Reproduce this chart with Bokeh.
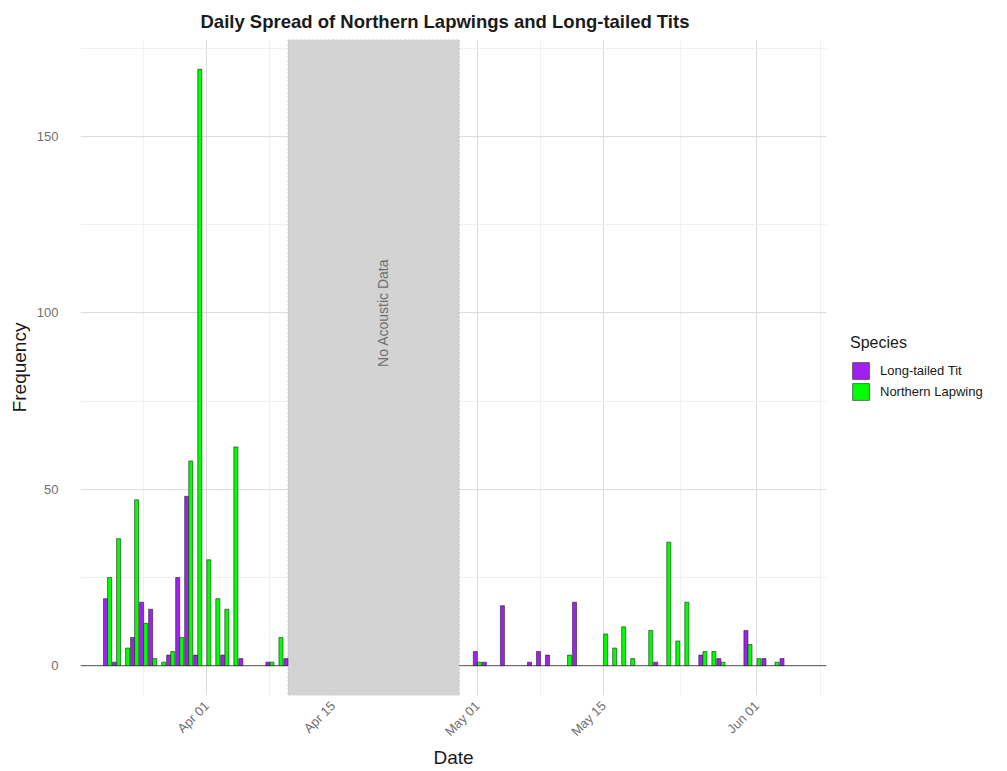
import math
import pandas as pd
from bokeh.plotting import figure
from bokeh.layouts import row
from bokeh.models import (ColumnDataSource, Range1d, FixedTicker, DatetimeTickFormatter,
                          BoxAnnotation, Span, Legend, LegendItem, Label)
from bokeh.transform import dodge
from bokeh.embed import file_html
from bokeh.resources import INLINE

# ---------------- data ----------------
species = ["Long-tailed Tit", "Northern Lapwing"]
colors = ["#A020F0", "#00FF00"]

tit_dates = ["2024-03-21", "2024-03-22", "2024-03-24", "2024-03-25", "2024-03-26",
             "2024-03-28", "2024-03-29", "2024-03-30", "2024-03-31", "2024-04-03",
             "2024-04-05", "2024-04-08", "2024-04-10", "2024-05-01", "2024-05-02",
             "2024-05-04", "2024-05-07", "2024-05-08", "2024-05-09", "2024-05-12",
             "2024-05-21", "2024-05-26", "2024-05-28", "2024-05-31", "2024-06-02",
             "2024-06-04"]
tit_counts = [19, 1, 8, 18, 16, 3, 25, 48, 3, 3, 2, 1, 2, 4, 1, 17, 1, 4, 3, 18,
              1, 3, 2, 10, 2, 2]

lap_dates = ["2024-03-21", "2024-03-22", "2024-03-23", "2024-03-24", "2024-03-25",
             "2024-03-26", "2024-03-27", "2024-03-28", "2024-03-29", "2024-03-30",
             "2024-03-31", "2024-04-01", "2024-04-02", "2024-04-03", "2024-04-04",
             "2024-04-08", "2024-04-09", "2024-05-01", "2024-05-11", "2024-05-15",
             "2024-05-16", "2024-05-17", "2024-05-18", "2024-05-20", "2024-05-22",
             "2024-05-23", "2024-05-24", "2024-05-26", "2024-05-27", "2024-05-28",
             "2024-05-31", "2024-06-01", "2024-06-03"]
lap_counts = [25, 36, 5, 47, 12, 2, 1, 4, 8, 58, 169, 30, 19, 16, 62, 1, 8, 1, 3, 9,
              5, 11, 2, 10, 35, 7, 18, 4, 4, 1, 6, 2, 1]

gap_start = "2024-04-10"
gap_end = "2024-04-29"
gap_label = "No Acoustic Data"
gap_label_date = "2024-04-20 12:00"
gap_label_y = 100

x_limits = ["2024-03-18", "2024-06-08 17:00"]
y_limits = [-8.45, 177.45]
x_major = ["2024-04-01", "2024-04-15", "2024-05-01", "2024-05-15", "2024-06-01"]
x_minor = ["2024-03-18", "2024-03-25", "2024-04-08", "2024-04-23", "2024-05-08",
           "2024-05-23 12:00", "2024-06-08"]
y_major = [0, 50, 100, 150]
y_minor = [25, 75, 125, 175]


def ms(s):
    return pd.Timestamp(s).value / 1e6


DAY = 86400000.0
FONT = "Liberation Sans"
H = 771

p = figure(width=831, height=H, x_axis_type="datetime",
           output_backend="svg", toolbar_location=None,
           x_range=Range1d(ms(x_limits[0]), ms(x_limits[1])),
           y_range=Range1d(y_limits[0], y_limits[1]),
           min_border_left=80, min_border_right=5, min_border_top=38,
           min_border_bottom=76)
p.outline_line_color = None
p.background_fill_color = "white"

# title
p.title.text = "Daily Spread of Northern Lapwings and Long-tailed Tits"
p.title.align = "left"
p.title.offset = 120
p.title.text_font = FONT
p.title.text_font_size = "18.5px"
p.title.text_font_style = "bold"
p.title.text_color = "#1a1a1a"
p.title.standoff = 16

# grids
p.xaxis.ticker = FixedTicker(ticks=[ms(d) for d in x_major], minor_ticks=[ms(d) for d in x_minor])
p.yaxis.ticker = FixedTicker(ticks=y_major, minor_ticks=y_minor)
p.xgrid.grid_line_color = "#dcdcdc"
p.ygrid.grid_line_color = "#dcdcdc"
p.xgrid.minor_grid_line_color = "#f0f0f0"
p.ygrid.minor_grid_line_color = "#f0f0f0"

# axes
p.xaxis.formatter = DatetimeTickFormatter(days="%b %d", months="%b %d")
p.xaxis.major_label_orientation = math.pi / 4
for ax in (p.xaxis, p.yaxis):
    ax.axis_line_color = None
    ax.major_tick_line_color = None
    ax.minor_tick_line_color = None
    ax.major_label_text_font = FONT
    ax.major_label_text_font_size = "13px"
    ax.major_label_text_color = "#707070"
    ax.axis_label_text_font = FONT
    ax.axis_label_text_font_size = "19px"
    ax.axis_label_text_font_style = "normal"
    ax.axis_label_text_color = "#1a1a1a"
p.xaxis.major_label_standoff = 2
p.yaxis.major_label_standoff = 16
p.xaxis.axis_label_standoff = 0
p.yaxis.axis_label_standoff = 4
p.xaxis.axis_label = "Date"
p.yaxis.axis_label = "Frequency"

# baseline
p.add_layout(Span(location=0, dimension="width", line_color="#555555", line_width=1,
                  level="underlay"))

# grey gap box
box = BoxAnnotation(left=ms(gap_start), right=ms(gap_end), fill_color="#D3D3D3",
                    fill_alpha=1.0, line_color="#7a7a7a", line_dash="2 2", line_width=1,
                    level="underlay")
p.add_layout(box)
p.add_layout(Label(x=ms(gap_label_date), y=gap_label_y, text=gap_label,
                   angle=math.pi / 2, text_align="center", text_baseline="middle",
                   text_font=FONT, text_font_size="14px", text_color="#6e6e6e"))

src_t = ColumnDataSource(dict(date=pd.to_datetime(tit_dates), count=tit_counts))
src_l = ColumnDataSource(dict(date=pd.to_datetime(lap_dates), count=lap_counts))

bw = 0.45 * DAY
bar_style = dict(line_color="#222222", line_width=0.6)
p.vbar(x=dodge("date", -0.225 * DAY, range=p.x_range), top="count", bottom=0, width=bw,
       source=src_t, fill_color=colors[0], **bar_style)
p.vbar(x=dodge("date", 0.225 * DAY, range=p.x_range), top="count", bottom=0, width=bw,
       source=src_l, fill_color=colors[1], **bar_style)

# ---------------- legend panel ----------------
q = figure(width=174, height=H, output_backend="svg", toolbar_location=None,
           x_axis_location=None, y_axis_location=None,
           x_range=Range1d(0, 1), y_range=Range1d(0, 1),
           min_border_left=0, min_border_right=0, min_border_top=0, min_border_bottom=0)
q.outline_line_color = None
q.grid.visible = False
# key renderers share the data sources; their bars fall outside this panel's ranges
k_t = q.vbar(x="date", top="count", width=bw, source=src_t, fill_color=colors[0], **bar_style)
k_l = q.vbar(x="date", top="count", width=bw, source=src_l, fill_color=colors[1], **bar_style)

legend = Legend(items=[LegendItem(label=species[0], renderers=[k_t]),
                       LegendItem(label=species[1], renderers=[k_l])],
                location=(19, 293))
legend.title = "Species"
legend.title_text_font = FONT
legend.title_text_font_size = "16px"
legend.title_text_font_style = "normal"
legend.title_text_color = "#1a1a1a"
legend.label_text_font = FONT
legend.label_text_font_size = "13px"
legend.label_text_color = "#1a1a1a"
legend.glyph_width = 21
legend.glyph_height = 21
legend.label_standoff = 9
legend.spacing = 0
legend.padding = 0
legend.margin = 0
legend.border_line_color = None
legend.background_fill_alpha = 0
legend.title_standoff = 8
q.add_layout(legend, "center")

layout = row(p, q, spacing=0)
open("out.html", "w").write(file_html(layout, INLINE))
